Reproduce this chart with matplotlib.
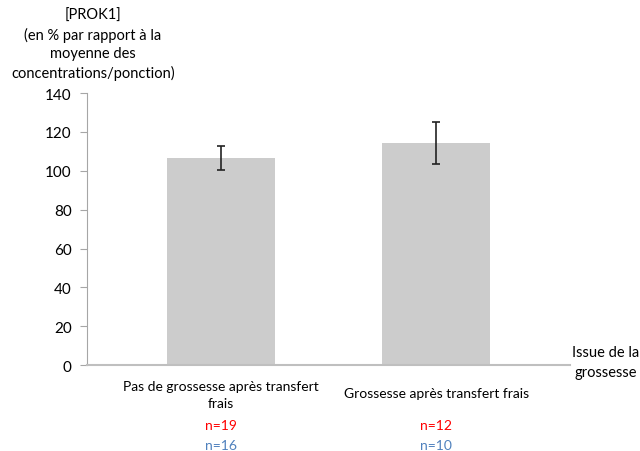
import matplotlib.pyplot as plt
import numpy as np

plt.rcParams['font.family'] = ['Lato', 'DejaVu Sans']

categories = ['Pas de grossesse après transfert\nfrais', 'Grossesse après transfert frais']
means = [106.5, 114.3]
errors = [6.0, 10.6]
n_red = ['n=19', 'n=12']
n_blue = ['n=16', 'n=10']
yticks = [0, 20, 40, 60, 80, 100, 120, 140]

fig = plt.figure(figsize=(6.4, 4.52), dpi=100)
ax = fig.add_axes([0.136, 0.190, 0.755, 0.602])

x = np.arange(len(categories))
ax.bar(x, means, width=0.5, color='#cccccc', zorder=2)
ax.errorbar(x, means, yerr=errors, fmt='none', ecolor='#222222',
            elinewidth=1.2, capsize=3, capthick=1.2, zorder=3)

ax.set_xlim(-0.623, 1.623)
ax.set_ylim(0, 140)
ax.set_yticks(yticks)
ax.set_yticklabels([str(t) for t in yticks], fontsize=11)
ax.set_xticks([])

for s in ['top', 'right']:
    ax.spines[s].set_visible(False)
ax.spines['left'].set_color('#a6a6a6')
ax.spines['bottom'].set_color('#bfbfbf')
ax.spines['bottom'].set_linewidth(1.5)
ax.tick_params(axis='y', direction='out', length=5, color='#a6a6a6', pad=6)

# category labels and counts (offsets in points below the axis)
label_off = [-11, -16]
for i, lab in enumerate(categories):
    ax.annotate(lab, xy=(i, 0), xycoords=('data', 'axes fraction'),
                xytext=(0, label_off[i]), textcoords='offset points',
                ha='center', va='top', fontsize=10, linespacing=1.45)
    ax.annotate(n_red[i], xy=(i, 0), xycoords=('data', 'axes fraction'),
                xytext=(0, -39), textcoords='offset points',
                ha='center', va='top', fontsize=10, color='#ff0000')
    ax.annotate(n_blue[i], xy=(i, 0), xycoords=('data', 'axes fraction'),
                xytext=(0, -53.5), textcoords='offset points',
                ha='center', va='top', fontsize=10, color='#4f81bd')

fig.text(606 / 640, 1 - 363 / 452, 'Issue de la\ngrossesse', ha='center', va='center',
         fontsize=10.5, linespacing=1.5)
fig.text(93 / 640, 1 - 45 / 452,
         '[PROK1]\n(en % par rapport à la\nmoyenne des\nconcentrations/ponction)',
         ha='center', va='center', fontsize=10.5, linespacing=1.38)

fig.savefig('out.png', dpi=100)
